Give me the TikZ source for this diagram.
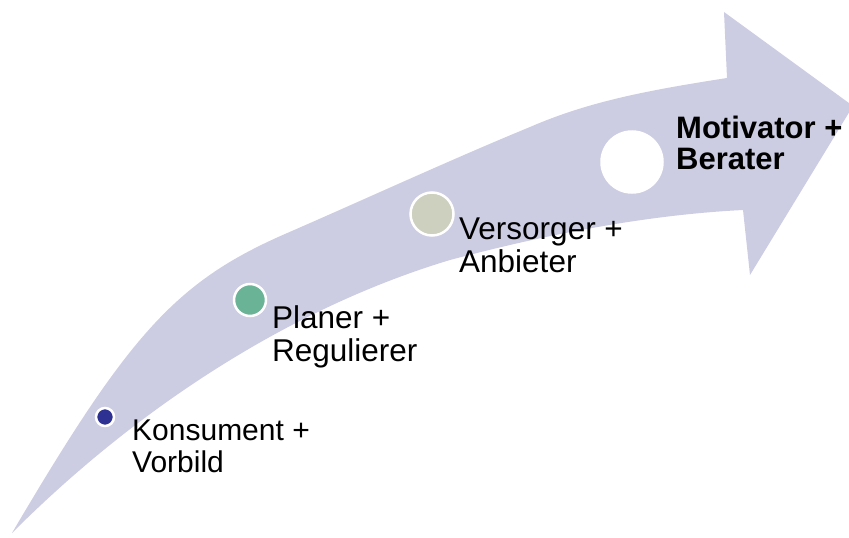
\documentclass[tikz,border=0pt]{standalone}
\usepackage{fontspec}
\setmainfont{Liberation Sans}
\definecolor{bandcol}{RGB}{204,204,226}
\definecolor{konsum}{RGB}{46,49,146}
\definecolor{planer}{RGB}{107,179,150}
\definecolor{versorg}{RGB}{205,208,190}
\begin{document}
\begin{tikzpicture}[x=1pt,y=-1pt,
  stage/.style={circle,draw=white,line width=2.5pt,inner sep=0pt},
  lbl/.style={anchor=north west,align=left,inner sep=0pt,text=black}]
\useasboundingbox (0,0) rectangle (849,538);

% curved arrow: upper edge, arrow head, lower edge back to the tail
\fill[bandcol]
  (12,533) .. controls (128,336) and (175,282) .. (285,234)
           .. controls (370,197) and (450,160) .. (530,127)
           .. controls (590,101) and (650,90) .. (727,78)
  -- (724,12) -- (853,106) -- (750,275) -- (743,210)
           .. controls (643,215) and (540,236) .. (450,260)
           .. controls (297,306) and (143,402) .. (12,533)
  -- cycle;

% stage markers
\node[stage,fill=konsum,minimum size=18pt]  (c1) at (105,417) {};
\node[stage,fill=planer,minimum size=32pt]  (c2) at (250,300) {};
\node[stage,fill=versorg,minimum size=43pt] (c3) at (432,214) {};
\node[stage,fill=white,minimum size=61pt]   (c4) at (632,162) {};

% stage labels
\node[lbl,font=\fontsize{30}{32}\selectfont] (t1) at (132,420) {Konsument +\\Vorbild};
\node[lbl,font=\fontsize{31.5}{33}\selectfont] (t2) at (272,305) {Planer +\\Regulierer};
\node[lbl,font=\fontsize{31.5}{32.5}\selectfont] (t3) at (459,218) {Versorger +\\Anbieter};
\node[lbl,font=\fontsize{31}{31}\selectfont\bfseries] (t4) at (676,116) {Motivator +\\Berater};
\end{tikzpicture}
\end{document}
